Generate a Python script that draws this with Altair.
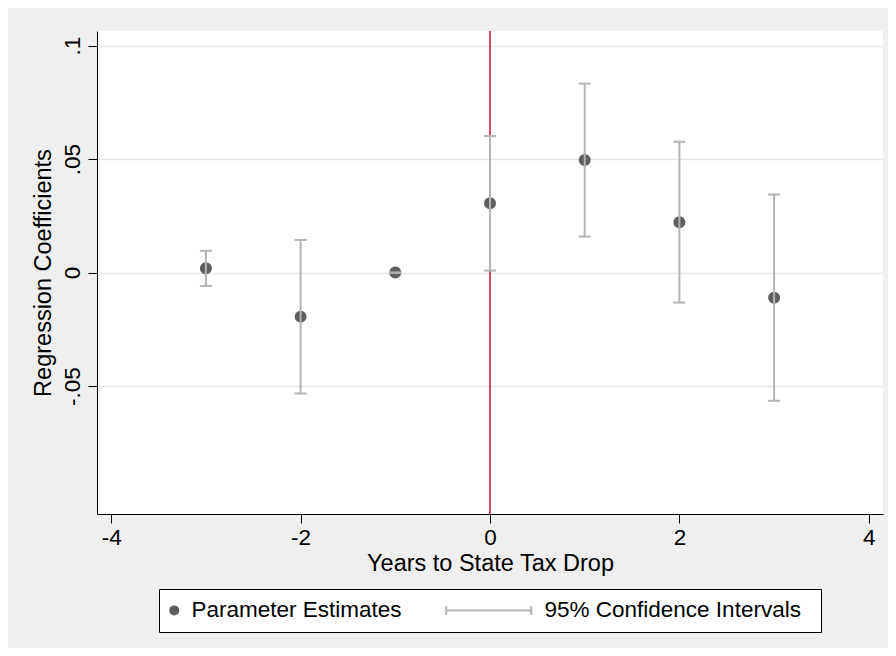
import altair as alt
import pandas as pd

# ---- data ----
years = [-3, -2, -1, 0, 1, 2, 3]
estimates = [0.0019, -0.0194, 0.0, 0.0306, 0.0496, 0.0222, -0.0111]
ci_low = [-0.0059, -0.0533, 0.0, 0.0009, 0.0159, -0.0132, -0.0565]
ci_high = [0.0096, 0.0144, 0.0, 0.0602, 0.0833, 0.0577, 0.0344]
event_year = [0]
x_ticks = [-4, -2, 0, 2, 4]
y_ticks = [-0.05, 0, 0.05, 0.1]
series_names = ["Parameter Estimates", "95% Confidence Intervals"]

FONT = "Liberation Sans"
PT_COLOR = "#5e5e5e"
CI_COLOR = "#b4b4b4"
RED = "#c8102e"

df = pd.DataFrame({"year": years, "est": estimates, "lo": ci_low, "hi": ci_high})
ev = pd.DataFrame({"year": event_year})

xscale = alt.Scale(domain=[-4.15, 4.15], nice=False, zero=False)
yscale = alt.Scale(domain=[-0.1064, 0.1065], nice=False, zero=False)
color_scale = alt.Scale(domain=series_names, range=[PT_COLOR, CI_COLOR])


def ring(r):
    return f"M{r},0A{r},{r} 0 1,1 {-r},0A{r},{r} 0 1,1 {r},0Z"


# solid dot drawn as concentric stroked rings (so the legend can use strokes for both entries)
disk_path = ring(0.8) + ring(0.467) + ring(0.15)
ci_path = "M-16.2,0L0.8,0M-16.2,-0.9L-16.2,0.9M0.8,-0.9L0.8,0.9"
shape_scale = alt.Scale(domain=series_names, range=[disk_path, ci_path])

x_axis = alt.Axis(values=x_ticks, title="Years to State Tax Drop", grid=False,
                  labelExpr="(datum.value < 0 ? '-' : '') + abs(datum.value)",
                  tickSize=9, labelPadding=3, titlePadding=3)
y_axis = alt.Axis(values=y_ticks, title="Regression Coefficients", grid=True,
                  labelExpr="datum.value == 0 ? '0' : (datum.value < 0 ? '-' : '') + replace(format(abs(datum.value), '.2~f'), '0.', '.')",
                  labelAngle=270, labelAlign="center", labelBaseline="bottom",
                  tickSize=9, labelPadding=4, titlePadding=6)

legend = alt.Legend(
    # an invisible (white-on-white) title at the right only widens the box like the reference
    title="_", titleOrient="right", titleColor="white", titleFontSize=10, titlePadding=4,
    orient="none", legendX=62, legendY=558, direction="horizontal",
    padding=10, strokeColor="black", fillColor="white", cornerRadius=0,
    labelFont=FONT, labelFontSize=22.5, labelColor="black",
    labelOffset=6, symbolOffset=-6,
    columnPadding=40, symbolSize=100, symbolStrokeWidth=2,
    symbolFillColor="transparent", symbolOpacity=1, labelLimit=500,
)

color_enc = alt.Color("series:N", scale=color_scale, legend=legend)

event_line = alt.Chart(ev).mark_rule(color=RED, strokeWidth=1.5).encode(
    x=alt.X("year:Q", scale=xscale, axis=x_axis)
)

points = alt.Chart(df).transform_calculate(series="'Parameter Estimates'").mark_point(
    filled=False, size=144, strokeWidth=2.4, opacity=1
).encode(
    x=alt.X("year:Q", scale=xscale, axis=x_axis),
    y=alt.Y("est:Q", scale=yscale, axis=y_axis),
    color=color_enc,
    shape=alt.Shape("series:N", scale=shape_scale, legend=legend),
)

ci_base = alt.Chart(df).transform_calculate(series="'95% Confidence Intervals'")

ci_rules = ci_base.mark_rule(strokeWidth=2).encode(
    x=alt.X("year:Q", scale=xscale, axis=x_axis),
    y=alt.Y("lo:Q", scale=yscale, axis=y_axis),
    y2="hi:Q",
    color=color_enc,
)
ci_lo = ci_base.mark_tick(orient="horizontal", size=12, thickness=2, opacity=1).encode(
    x=alt.X("year:Q", scale=xscale, axis=x_axis),
    y=alt.Y("lo:Q", scale=yscale, axis=y_axis),
    color=color_enc,
)
ci_hi = ci_base.mark_tick(orient="horizontal", size=12, thickness=2, opacity=1).encode(
    x=alt.X("year:Q", scale=xscale, axis=x_axis),
    y=alt.Y("hi:Q", scale=yscale, axis=y_axis),
    color=color_enc,
)

chart = alt.layer(event_line, points, ci_rules, ci_lo, ci_hi).properties(
    width=786, height=483,
    background="#efefef",
    padding={"left": 89, "top": 23, "right": 5, "bottom": 134},
    autosize=alt.AutoSizeParams(type="none"),
).configure_view(
    fill="white", strokeWidth=0
).configure_axis(
    domainColor="black", domainWidth=1, tickColor="black", tickWidth=1,
    labelFont=FONT, labelFontSize=22.5, labelColor="black",
    titleFont=FONT, titleFontSize=23.5, titleFontWeight="normal", titleColor="black",
    gridColor="#e6e6e6", gridWidth=1.5,
)

chart.save("out.html", embed_options={"renderer": "svg", "actions": False})
